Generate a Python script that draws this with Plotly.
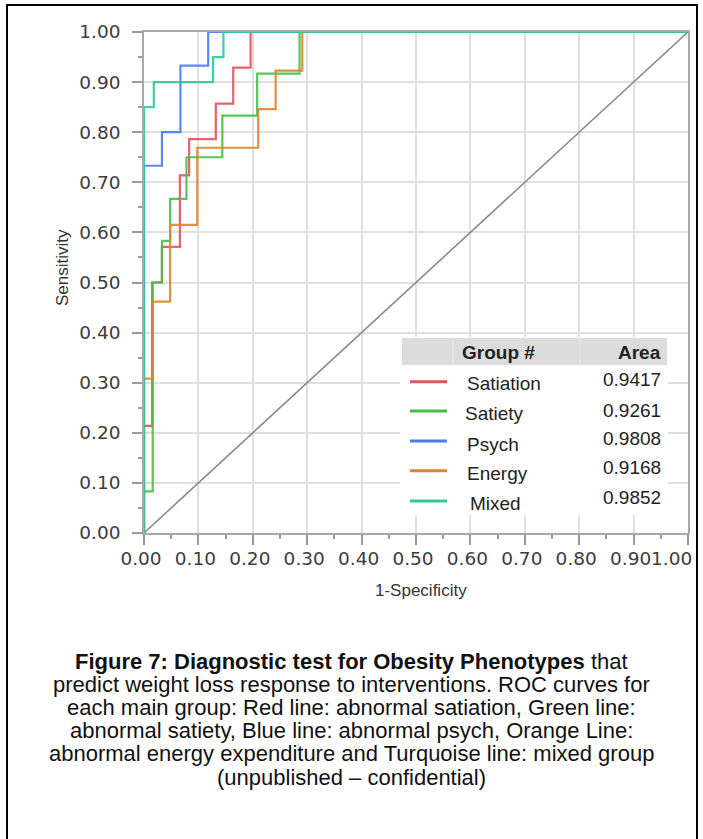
import plotly.graph_objects as go

# ---------------- data ----------------
groups = ["Satiation", "Satiety", "Psych", "Energy", "Mixed"]
areas = [0.9417, 0.9261, 0.9808, 0.9168, 0.9852]
colors = ["#E5505F", "#45BF45", "#4A7DF0", "#E0832A", "#33C79B"]

satiation_fpr = [0, 0, 0.015, 0.033, 0.066, 0.083, 0.132, 0.164, 0.196, 1.0]
satiation_tpr = [0, 0.214, 0.5, 0.571, 0.714, 0.786, 0.857, 0.929, 1.0, 1.0]

satiety_fpr = [0, 0, 0.016, 0.033, 0.048, 0.078, 0.144, 0.208, 0.286, 1.0]
satiety_tpr = [0, 0.083, 0.5, 0.583, 0.667, 0.75, 0.833, 0.917, 1.0, 1.0]

psych_fpr = [0, 0, 0.033, 0.067, 0.118, 1.0]
psych_tpr = [0, 0.733, 0.8, 0.933, 1.0, 1.0]

energy_fpr = [0, 0, 0.016, 0.048, 0.098, 0.21, 0.242, 0.291, 1.0]
energy_tpr = [0, 0.308, 0.462, 0.615, 0.769, 0.846, 0.923, 1.0, 1.0]

mixed_fpr = [0, 0, 0.018, 0.127, 0.146, 1.0]
mixed_tpr = [0, 0.85, 0.9, 0.95, 1.0, 1.0]

diag_x = [0, 1]
diag_y = [0, 1]

tick_vals = [i / 10 for i in range(11)]
tick_text = ["%.2f" % v for v in tick_vals]

caption_lines = [
    "<b>Figure 7: Diagnostic test for Obesity Phenotypes</b> that",
    "predict weight loss response to interventions. ROC curves for",
    "each main group: Red line: abnormal satiation, Green line:",
    "abnormal satiety, Blue line: abnormal psych, Orange Line:",
    "abnormal energy expenditure and Turquoise line: mixed group",
    "(unpublished \u2013 confidential)",
]

curves = [
    (satiation_fpr, satiation_tpr),
    (satiety_fpr, satiety_tpr),
    (psych_fpr, psych_tpr),
    (energy_fpr, energy_tpr),
    (mixed_fpr, mixed_tpr),
]

# ---------------- layout helpers (pixel -> paper) ----------------
W, H = 703, 839
X0, X1 = 144, 688
Y0, Y1 = 533, 32


def px(x):
    return (x - X0) / (X1 - X0)


def py(y):
    return (Y0 - y) / (Y0 - Y1)


fig = go.Figure()

fig.add_trace(go.Scatter(x=diag_x, y=diag_y, mode="lines",
                         line=dict(color="#8a8a8a", width=1.6),
                         showlegend=False, hoverinfo="skip"))

for (fx, ty), name, col in zip(curves, groups, colors):
    fig.add_trace(go.Scatter(x=fx, y=ty, mode="lines", name=name,
                             line=dict(color=col, width=2.2, shape="hv"),
                             opacity=0.9, showlegend=False))

tick_font = dict(family="DejaVu Sans", size=18.5, color="#3c3c3c")

axis_common = dict(
    range=[0, 1],
    tickvals=tick_vals,
    ticks="outside",
    ticklen=10,
    tickcolor="#9a9a9a",
    tickwidth=1.5,
    showgrid=True,
    gridcolor="#e0e0e0",
    gridwidth=2,
    zeroline=False,
    showline=True,
    linecolor="#a8a8a8",
    linewidth=1.5,
    mirror=True,
    automargin=False,
    ticklabeloverflow="allow",
    tickfont=tick_font,
    minor=dict(dtick=0.05, ticklen=4, tickcolor="#9a9a9a", ticks="outside", showgrid=False),
)

# last x label is placed separately (shifted left to stay inside the frame, as in the reference)
x_tick_text = tick_text[:-1] + [""]

fig.update_xaxes(**axis_common, ticktext=x_tick_text, ticklabelstandoff=-2, ticklabelshift=-3)
fig.update_yaxes(**axis_common, ticktext=tick_text, ticklabelstandoff=8)

shapes = []
annotations = []

annotations.append(dict(text=tick_text[-1], x=px(694), y=py(558), xref="paper", yref="paper",
                        xanchor="right", yanchor="middle", showarrow=False, font=tick_font))

# legend table
tbl_l, tbl_r, tbl_t, tbl_b = 400, 668, 337, 515
shapes.append(dict(type="rect", xref="paper", yref="paper",
                   x0=px(tbl_l), x1=px(tbl_r), y0=py(tbl_b), y1=py(tbl_t),
                   fillcolor="white", line=dict(width=0), layer="above"))
shapes.append(dict(type="rect", xref="paper", yref="paper",
                   x0=px(402), x1=px(667), y0=py(365), y1=py(338),
                   fillcolor="#dcdcdc", line=dict(width=0), layer="above"))
for sx in [453, 580]:
    shapes.append(dict(type="line", xref="paper", yref="paper",
                       x0=px(sx), x1=px(sx), y0=py(365), y1=py(338),
                       line=dict(color="#e9e9e9", width=1), layer="above"))

annotations.append(dict(text="<b>Group #</b>", x=px(498), y=py(352), xref="paper", yref="paper",
                        xanchor="center", yanchor="middle", showarrow=False,
                        font=dict(family="Liberation Sans, Arial", size=19, color="#222")))
annotations.append(dict(text="<b>Area</b>", x=px(663), y=py(352), xref="paper", yref="paper",
                        xanchor="right", yanchor="middle", showarrow=False,
                        font=dict(family="Liberation Sans, Arial", size=19, color="#222")))

line_ys = [381.7, 411, 441, 470.7, 501]
name_ys = [383, 414, 444, 473, 503]
name_xs = [465, 463, 465, 465, 468]
val_ys = [380, 410, 438, 467, 497]
for i, (name, area, col) in enumerate(zip(groups, areas, colors)):
    shapes.append(dict(type="line", xref="paper", yref="paper",
                       x0=px(410), x1=px(447), y0=py(line_ys[i]), y1=py(line_ys[i]),
                       line=dict(color=col, width=3), layer="above"))
    annotations.append(dict(text=name, x=px(name_xs[i]), y=py(name_ys[i]), xref="paper", yref="paper",
                            xanchor="left", yanchor="middle", showarrow=False,
                            font=dict(family="Liberation Sans, Arial", size=19, color="#222")))
    annotations.append(dict(text="%.4f" % area, x=px(663), y=py(val_ys[i]), xref="paper", yref="paper",
                            xanchor="right", yanchor="middle", showarrow=False,
                            font=dict(family="Liberation Sans, Arial", size=19, color="#222")))

# axis titles
annotations.append(dict(text="1-Specificity", x=px(421), y=py(590), xref="paper", yref="paper",
                        xanchor="center", yanchor="middle", showarrow=False,
                        font=dict(family="Liberation Sans, Arial", size=17, color="#333")))
annotations.append(dict(text="Sensitivity", x=px(62), y=py(268), xref="paper", yref="paper",
                        xanchor="center", yanchor="middle", showarrow=False, textangle=-90,
                        font=dict(family="Liberation Sans, Arial", size=17, color="#333")))

# caption (tight line spacing as in the reference, one line per annotation)
cap_ys = [661, 684.2, 707.4, 730.6, 753.8, 777]
for line, cy in zip(caption_lines, cap_ys):
    annotations.append(dict(text=line, x=px(351), y=py(cy), xref="paper", yref="paper",
                            xanchor="center", yanchor="middle", showarrow=False,
                            font=dict(family="Liberation Sans, Arial", size=22, color="#111")))

# outer frame
shapes.append(dict(type="rect", xref="paper", yref="paper",
                   x0=px(7), x1=px(697), y0=py(850), y1=py(5),
                   line=dict(color="black", width=2), fillcolor="rgba(0,0,0,0)", layer="above"))

fig.update_layout(
    width=W, height=H,
    margin=dict(l=X0, r=W - X1, t=Y1, b=H - Y0, pad=0),
    paper_bgcolor="white", plot_bgcolor="white",
    shapes=shapes, annotations=annotations,
    showlegend=False,
)

fig.write_html("out.html",
               config={"displayModeBar": False},
               post_script="document.body.style.margin='0';document.body.style.overflow='hidden';")
